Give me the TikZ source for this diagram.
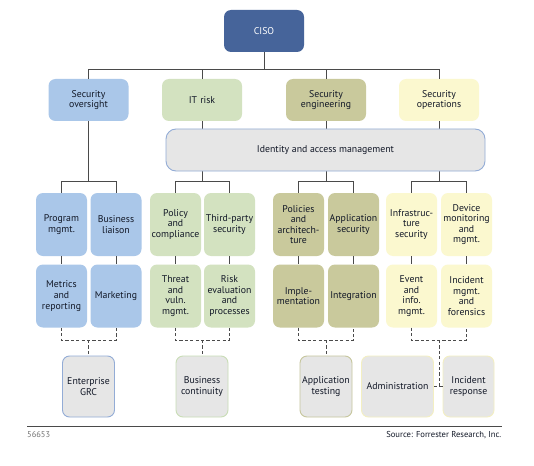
\documentclass[tikz,border=0pt]{standalone}
\usepackage{fontspec}
\setmainfont{PT Sans}
\usetikzlibrary{calc}
\definecolor{cisoC}{HTML}{46649A}
\definecolor{soC}{HTML}{AAC7E9}
\definecolor{itC}{HTML}{D3E2C0}
\definecolor{seC}{HTML}{C9C99C}
\definecolor{opC}{HTML}{FBF8CF}
\definecolor{greyF}{HTML}{E6E6E6}
\definecolor{iamB}{HTML}{93ACD6}
\definecolor{contB}{HTML}{C9DDB6}
\definecolor{atB}{HTML}{C6C69D}
\definecolor{opB}{HTML}{F3EFC2}
\definecolor{txt}{HTML}{121827}
\definecolor{lineC}{HTML}{4A4A4A}
\tikzset{
  base/.style={rounded corners=7pt, align=center, inner sep=0pt, text=txt,
    font=\fontsize{9.8}{10.6}\selectfont},
  lvltwo/.style={base, minimum width=80pt, minimum height=42pt, text width=78pt},
  sub/.style={base, minimum width=51pt, minimum height=63pt, text width=51pt},
  bot/.style={base, fill=greyF, draw, line width=0.9pt, minimum height=61pt},
  conn/.style={draw=lineC, line width=0.8pt},
  dconn/.style={draw=lineC, line width=0.8pt, dash pattern=on 3.2pt off 2.2pt},
}
\begin{document}
\begin{tikzpicture}[x=1pt,y=-1pt]
\useasboundingbox (0,0) rectangle (534,465);
\fill[white] (0,0) rectangle (534,465);
% coordinates for buses
\coordinate (bus) at (264,69.5);
\coordinate (subbus) at (264,181);
\coordinate (br) at (264,340);
% nodes
\node[base, fill=cisoC, text=white, minimum width=80pt, minimum height=42pt] (ciso) at (264,31) {CISO};
\node[lvltwo, fill=soC] (so) at (88.5,100) {Security\\oversight};
\node[lvltwo, fill=itC] (itr) at (202,100) {IT risk};
\node[lvltwo, fill=seC] (se) at (326,100) {Security\\engineering};
\node[lvltwo, fill=opC] (sops) at (439,100) {Security\\operations};
% row 3
\node[sub, fill=soC] (pm) at (61.5,224.5) {Program\\mgmt.};
\node[sub, fill=soC] (bl) at (116,224.5) {Business\\liaison};
\node[sub, fill=itC] (pc) at (175.5,224.5) {Policy\\and\\compliance};
\node[sub, fill=itC] (tp) at (229.5,224.5) {Third-party\\security};
\node[sub, fill=seC] (pa) at (298.5,224.5) {Policies\\and\\architech-\\ture};
\node[sub, fill=seC] (as) at (353.5,224.5) {Application\\security};
\node[sub, fill=opC] (is) at (411.5,224.5) {Infrastruc-\\ture\\security};
\node[sub, fill=opC] (dm) at (466.5,224.5) {Device\\monitoring\\and\\mgmt.};
% row 4
\node[sub, fill=soC] (mr) at (61.5,296) {Metrics\\and\\reporting};
\node[sub, fill=soC] (mk) at (116,296) {Marketing};
\node[sub, fill=itC] (tv) at (175.5,296) {Threat\\and\\vuln.\\mgmt.};
\node[sub, fill=itC] (re) at (229.5,296) {Risk\\evaluation\\and\\processes};
\node[sub, fill=seC] (im) at (298.5,296) {Imple-\\mentation};
\node[sub, fill=seC] (ig) at (353.5,296) {Integration};
\node[sub, fill=opC] (ei) at (411.5,296) {Event\\and\\info.\\mgmt.};
\node[sub, fill=opC] (imf) at (466.5,296) {Incident\\mgmt.\\and\\forensics};
% bottom
\node[bot, draw=iamB, minimum width=52pt, text width=52pt] (grc) at (88.5,386.5) {Enterprise\\GRC};
\node[bot, draw=contB, minimum width=52pt, text width=52pt] (bc) at (202,386.5) {Business\\continuity};
\node[bot, draw=atB, minimum width=52pt, text width=52pt] (at) at (326,386.5) {Application\\testing};
\node[bot, draw=opB, minimum width=72pt, text width=72pt] (adm) at (397.5,386.5) {Administration};
\node[bot, draw=opB, minimum width=51pt, text width=51pt] (ir) at (468.5,386.5) {Incident\\response};
% top connectors
\draw[conn] (ciso.south) -- (bus);
\draw[conn] (so.north) -- (so.north |- bus) -- (sops.north |- bus) -- (sops.north);
\draw[conn] (itr.north) -- (itr.north |- bus);
\draw[conn] (se.north) -- (se.north |- bus);
% level 2 down to sub buses
\draw[conn] (so.south) -- (so.south |- subbus);
\draw[conn] (itr.south) -- (itr.south |- subbus);
\draw[conn] (se.south) -- (se.south |- subbus);
\draw[conn] (sops.south) -- (sops.south |- subbus);
\draw[conn] (pm.north) -- (pm.north |- subbus) -- (bl.north |- subbus) -- (bl.north);
\draw[conn] (pc.north) -- (pc.north |- subbus) -- (tp.north |- subbus) -- (tp.north);
\draw[conn] (pa.north) -- (pa.north |- subbus) -- (as.north |- subbus) -- (as.north);
\draw[conn] (is.north) -- (is.north |- subbus) -- (dm.north |- subbus) -- (dm.north);
% row 3 to row 4
\foreach \a/\b in {pm/mr, bl/mk, pc/tv, tp/re, pa/im, as/ig, is/ei, dm/imf}
  \draw[conn] (\a.south) -- (\b.north);
% identity box over the lines
\node[base, fill=greyF, draw=iamB, line width=0.9pt, rounded corners=10pt,
  minimum width=319pt, minimum height=42pt] (iam) at (325.5,150) {Identity and access management};
% dashed brackets
\draw[dconn] (mr.south) -- (mr.south |- br) -- (mk.south |- br) -- (mk.south);
\draw[dconn] (so.south |- br) -- (grc.north);
\draw[dconn] (tv.south) -- (tv.south |- br) -- (re.south |- br) -- (re.south);
\draw[dconn] (itr.south |- br) -- (bc.north);
\draw[dconn] (im.south) -- (im.south |- br) -- (ig.south |- br) -- (ig.south);
\draw[dconn] (se.south |- br) -- (at.north);
\draw[dconn] (ei.south) -- (ei.south |- br) -- (imf.south |- br) -- (imf.south);
\draw[dconn] (sops.south |- br) -- (sops.south |- adm.east);
\draw[dconn] (adm.east) -- (ir.west);
% footer
\coordinate (fl) at (27,426);
\coordinate (fr) at (501.5,426);
\draw[draw=lineC, line width=1pt] (fl) -- (fr);
\node[anchor=north west, inner sep=0pt, text=black!55, font=\fontsize{8.4}{9}\selectfont] (num) at (27,431) {56653};
\node[anchor=north east, inner sep=0pt, text=txt, font=\fontsize{8.6}{9}\selectfont] (src) at (501.5,431) {Source: Forrester Research, Inc.};
\end{tikzpicture}
\end{document}
